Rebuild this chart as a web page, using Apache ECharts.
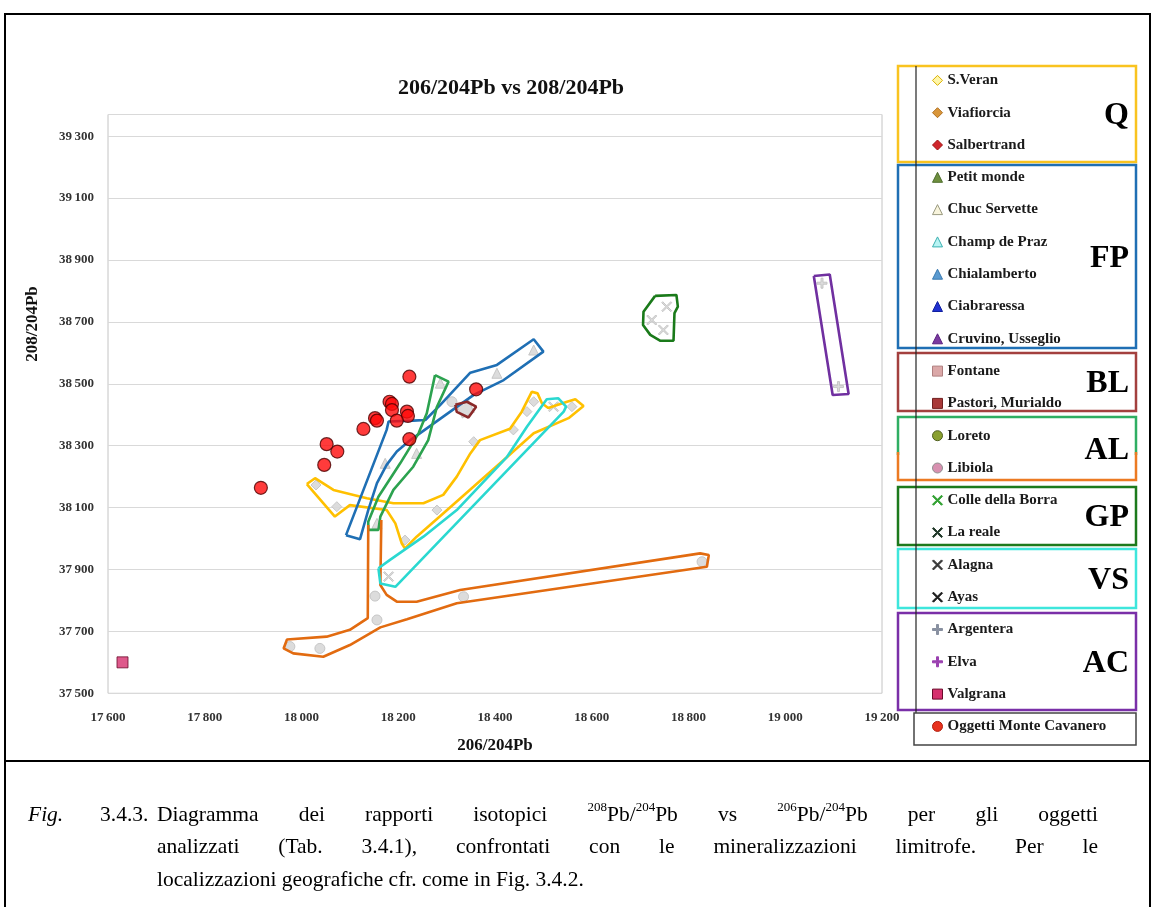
<!DOCTYPE html>
<html>
<head>
<meta charset="utf-8">
<title>206/204Pb vs 208/204Pb</title>
<script src="https://cdn.jsdelivr.net/npm/echarts@6/dist/echarts.min.js"></script>
<style>
  html, body { margin: 0; padding: 0; background: #fff; }
  #chart { width: 1155px; height: 907px; }
</style>
</head>
<body>
<div id="chart"></div>
<script>
// axis ranges
const xMin = 17600, xMax = 19200, xStep = 200;
const yMin = 37500, yMax = 39370, yStep = 200;

// legend entries, in the order of the figure
const legendNames = [
  'S.Veran', 'Viafiorcia', 'Salbertrand',
  'Petit monde', 'Chuc Servette', 'Champ de Praz', 'Chialamberto', 'Ciabraressa', 'Cruvino, Usseglio',
  'Fontane', 'Pastori, Murialdo',
  'Loreto', 'Libiola',
  'Colle della Borra', 'La reale',
  'Alagna', 'Ayas',
  'Argentera', 'Elva', 'Valgrana',
  'Oggetti Monte Cavanero'
];

// points [206/204Pb, 208/204Pb]
const sVeran = [[18030, 38173], [18073, 38103], [18214, 37995], [18280, 38092], [18356, 38313], [18466, 38410], [18559, 38426]];
const viafiorcia = [[18438, 38351], [18480, 38442]];
const salbertrand = [];
const petitMonde = [[18287, 38502]];
const chucServette = [[18238, 38275]];
const champDePraz = [[18156, 38049]];
const chialamberto = [[18404, 38534]];
const ciabraressa = [];
const cruvino = [[18480, 38609], [18173, 38243]];
const fontane = [];
const pastori = [[18339, 38418]];
const loreto = [[18311, 38442]];
const libiola = [[17976, 37651], [18038, 37645], [18156, 37737], [18152, 37814], [18335, 37812], [18828, 37925]];
const colleDellaBorra = [[18724, 38706]];
const laReale = [[18755, 38749], [18748, 38674]];
const alagna = [[18180, 37877]];
const ayas = [[18521, 38426]];
const argentera = [[19076, 38825], [19110, 38491]];
const elva = [];
const valgrana = [[17630, 37600]];
const oggettiMonteCavanero = [
  [18223, 38523], [18361, 38482], [18182, 38442], [18187, 38435], [18187, 38415],
  [18218, 38410], [18220, 38396], [18197, 38381], [18152, 38389], [18156, 38381],
  [18128, 38354], [18223, 38321], [18052, 38305], [18074, 38281], [18047, 38238],
  [17916, 38164]
];

const pointSets = [
  sVeran, viafiorcia, salbertrand,
  petitMonde, chucServette, champDePraz, chialamberto, ciabraressa, cruvino,
  fontane, pastori,
  loreto, libiola,
  colleDellaBorra, laReale,
  alagna, ayas,
  argentera, elva, valgrana,
  oggettiMonteCavanero
];

// hand drawn field envelopes
const envQ = [[18011, 38176], [18028, 38195], [18066, 38157], [18135, 38130], [18190, 38114], [18252, 38114], [18293, 38141],
  [18321, 38200], [18349, 38275], [18369, 38318], [18431, 38355], [18455, 38409], [18476, 38474], [18488, 38469], [18497, 38437],
  [18510, 38422], [18549, 38442], [18566, 38450], [18583, 38428], [18552, 38389], [18480, 38340], [18418, 38254], [18356, 38168],
  [18287, 38073], [18238, 38006], [18214, 37968], [18207, 37985], [18194, 38049], [18176, 38092], [18100, 38108], [18069, 38071],
  [18011, 38176]];
const envFP = [[18092, 38011], [18176, 38351], [18180, 38378], [18231, 38381], [18256, 38383], [18287, 38432], [18349, 38536],
  [18404, 38561], [18480, 38644], [18500, 38604], [18418, 38512], [18356, 38464], [18293, 38394], [18225, 38318], [18197, 38281],
  [18176, 38238], [18156, 38179], [18138, 38092], [18121, 37998], [18092, 38011]];
const envLoreto = [[18276, 38528], [18304, 38507], [18280, 38426], [18262, 38318], [18231, 38232], [18190, 38157], [18163, 38071],
  [18159, 38028], [18138, 38028], [18138, 38054], [18159, 38135], [18204, 38243], [18242, 38340], [18259, 38405], [18276, 38528]];
const envLibiola = [[18138, 38044], [18137, 37743], [18100, 37705], [18052, 37683], [17970, 37674], [17963, 37645], [17983, 37629],
  [18045, 37618], [18100, 37656], [18163, 37713], [18218, 37739], [18321, 37791], [18838, 37909], [18842, 37947], [18824, 37952],
  [18328, 37834], [18238, 37796], [18197, 37796], [18176, 37818], [18163, 37850], [18165, 38060]];
const envVS = [[18159, 37904], [18163, 37855], [18194, 37844], [18542, 38410], [18547, 38426], [18531, 38453], [18507, 38450],
  [18466, 38361], [18425, 38264], [18321, 38092], [18252, 38006], [18183, 37931], [18159, 37904]];
const envGP = [[18731, 38784], [18775, 38787], [18778, 38749], [18771, 38728], [18769, 38639], [18742, 38639], [18721, 38658],
  [18706, 38690], [18707, 38733], [18731, 38784]];
const envAC = [[19059, 38848], [19092, 38853], [19131, 38467], [19098, 38464], [19059, 38848]];
const envBL = [[18318, 38432], [18342, 38442], [18361, 38426], [18345, 38391], [18321, 38409], [18318, 38432]];

const X_PATH = 'path://M1,0L5,4L9,0L10,1L6,5L10,9L9,10L5,6L1,10L0,9L4,5L0,1Z';
const PLUS_PATH = 'path://M4,0H6V4H10V6H6V10H4V6H0V4H4Z';

// legend symbols: [icon, fill, border]
const iconStyles = {
  'S.Veran': ['diamond', '#fff6a8', '#d9b000'],
  'Viafiorcia': ['diamond', '#d9963a', '#b07020'],
  'Salbertrand': ['diamond', '#d0262c', '#a01010'],
  'Petit monde': ['triangle', '#6f8f3f', '#4f6f2f'],
  'Chuc Servette': ['triangle', '#f8f4dc', '#9a9a80'],
  'Champ de Praz': ['triangle', '#b8f4f4', '#3ab0b0'],
  'Chialamberto': ['triangle', '#5a9ad0', '#3a7ab0'],
  'Ciabraressa': ['triangle', '#2030d0', '#1020a0'],
  'Cruvino, Usseglio': ['triangle', '#7a3aa0', '#5a2080'],
  'Fontane': ['rect', '#dba8a8', '#b08080'],
  'Pastori, Murialdo': ['rect', '#a83838', '#702020'],
  'Loreto': ['circle', '#8aa030', '#506020'],
  'Libiola': ['circle', '#d890b0', '#909090'],
  'Colle della Borra': [X_PATH, '#30a030', '#30a030'],
  'La reale': [X_PATH, '#203828', '#203828'],
  'Alagna': [X_PATH, '#333333', '#333333'],
  'Ayas': [X_PATH, '#1a1a1a', '#1a1a1a'],
  'Argentera': [PLUS_PATH, '#8890a0', '#8890a0'],
  'Elva': [PLUS_PATH, '#9a40b0', '#9a40b0'],
  'Valgrana': ['rect', '#d6306e', '#6a0a2a'],
  'Oggetti Monte Cavanero': ['circle', '#e8321e', '#b02010']
};

const chart = echarts.init(document.getElementById('chart'));

const scatterSeries = legendNames.map((name, i) => {
  const st = iconStyles[name];
  let itemStyle = { color: '#d8d8d8', borderColor: '#c2c2c2', borderWidth: 1, opacity: 0.9 };
  let size = 10;
  let z = 2;
  if (name === 'Oggetti Monte Cavanero') {
    itemStyle = { color: '#ff0a0a', borderColor: '#4a0000', borderWidth: 1.2 };
    size = 13; z = 6;
  } else if (name === 'Valgrana') {
    itemStyle = { color: '#d6306e', borderColor: '#6a0a2a', borderWidth: 1 };
    size = 11; z = 6;
  }
  return {
    name: name,
    type: 'scatter',
    data: pointSets[i],
    symbol: st[0],
    symbolSize: name === 'Pastori, Murialdo' ? 13 : size,
    symbolRotate: name === 'Pastori, Murialdo' ? 25 : 0,
    itemStyle: itemStyle,
    z: z,
    animation: false
  };
});

const envelopes = [
  [envQ, '#ffc000'], [envFP, '#1f6fb4'], [envLoreto, '#2ca24f'], [envLibiola, '#e26b10'],
  [envVS, '#2ad8d0'], [envGP, '#1a7a1a'], [envAC, '#7030a0'], [envBL, '#8b2a2a']
];
const envSeries = envelopes.map(([d, c]) => ({
  type: 'line',
  data: d,
  symbol: 'none',
  showSymbol: false,
  lineStyle: { color: c, width: 2.6 },
  silent: true,
  z: 4,
  animation: false
}));

// caption (justified like the printed figure)
const captionFont = '"Liberation Serif", serif';
const capSize = 21.5, supSize = 13;
const measureCtx = document.createElement('canvas').getContext('2d');
function textWidth(t, size, italic) {
  measureCtx.font = (italic ? 'italic ' : '') + size + 'px ' + captionFont;
  return measureCtx.measureText(t).width;
}
function wordParts(w) {
  const parts = [];
  w.split(/(\{[^}]*\})/).forEach(p => {
    if (!p) return;
    if (p[0] === '{') parts.push([p.slice(1, -1), true]);
    else parts.push([p, false]);
  });
  return parts;
}
function captionLine(words, x0, x1, y, justify, italic) {
  const parsed = words.map(wordParts);
  const widths = parsed.map(p => p.reduce((s, [t, sup]) => s + textWidth(t, sup ? supSize : capSize, italic), 0));
  const total = widths.reduce((a, b) => a + b, 0);
  const gap = justify ? (x1 - x0 - total) / (words.length - 1) : textWidth(' ', capSize, italic);
  let x = x0;
  const els = [];
  parsed.forEach(parts => {
    parts.forEach(([t, sup]) => {
      const size = sup ? supSize : capSize;
      els.push({
        type: 'text', x: x, y: sup ? y - 7 : y,
        style: { text: t, font: (italic ? 'italic ' : '') + size + 'px ' + captionFont, fill: '#000', verticalAlign: 'middle' }
      });
      x += textWidth(t, size, italic);
    });
    x += gap;
  });
  return els;
}

const captionEls = [].concat(
  captionLine(['Fig.'], 28, 0, 815, false, true),
  captionLine(['3.4.3.'], 100, 0, 815, false, false),
  captionLine(['Diagramma', 'dei', 'rapporti', 'isotopici', '{208}Pb/{204}Pb', 'vs', '{206}Pb/{204}Pb', 'per', 'gli', 'oggetti'], 157, 1098, 815, true, false),
  captionLine(['analizzati', '(Tab.', '3.4.1),', 'confrontati', 'con', 'le', 'mineralizzazioni', 'limitrofe.', 'Per', 'le'], 157, 1098, 847, true, false),
  captionLine(['localizzazioni', 'geografiche', 'cfr.', 'come', 'in', 'Fig.', '3.4.2.'], 157, 0, 880, false, false)
);

// coloured group frames of the legend
const groupBoxes = [
  ['Q', 66, 162, '#f9c31f'],
  ['FP', 165, 348, '#1f6fb4'],
  ['BL', 353, 411, '#a3403e'],
  ['GP', 487, 545, '#1c7a1c'],
  ['VS', 549, 608, '#3ee6dc'],
  ['AC', 613, 710, '#7a2fa8']
];
const groupEls = [];
groupBoxes.forEach(([label, y0, y1, color]) => {
  groupEls.push({ type: 'rect', shape: { x: 898, y: y0, width: 238, height: y1 - y0 }, style: { fill: null, stroke: color, lineWidth: 2.5 }, z: 1 });
  groupEls.push({ type: 'text', x: 1129, y: (y0 + y1) / 2 + 2, style: { text: label, font: 'bold 32px "Liberation Serif"', fill: '#000', align: 'right', verticalAlign: 'middle' }, z: 3 });
});
groupEls.push({ type: 'polyline', shape: { points: [[898, 455], [898, 417], [1136, 417], [1136, 455]] }, style: { fill: null, stroke: '#2fae62', lineWidth: 2.5 }, z: 1 });
groupEls.push({ type: 'polyline', shape: { points: [[898, 452], [898, 480], [1136, 480], [1136, 452]] }, style: { fill: null, stroke: '#ec7a22', lineWidth: 2.5 }, z: 1 });
groupEls.push({ type: 'text', x: 1129, y: 451, style: { text: 'AL', font: 'bold 32px "Liberation Serif"', fill: '#000', align: 'right', verticalAlign: 'middle' }, z: 3 });
// legend outline
groupEls.push({ type: 'line', shape: { x1: 916, y1: 66, x2: 916, y2: 713 }, style: { stroke: '#222', lineWidth: 1.2 }, z: 1 });
groupEls.push({ type: 'rect', shape: { x: 914, y: 713, width: 222, height: 32 }, style: { fill: null, stroke: '#444', lineWidth: 1.5 }, z: 1 });

const frameEls = [
  { type: 'rect', shape: { x: 5, y: 14, width: 1145, height: 747 }, style: { fill: null, stroke: '#000', lineWidth: 2 }, z: 1 },
  { type: 'line', shape: { x1: 5, y1: 761, x2: 5, y2: 907 }, style: { stroke: '#000', lineWidth: 2 } },
  { type: 'line', shape: { x1: 1150, y1: 761, x2: 1150, y2: 907 }, style: { stroke: '#000', lineWidth: 2 } },
  { type: 'text', x: 33, y: 324, rotation: Math.PI / 2,
    style: { text: '208/204Pb', font: 'bold 17px "Liberation Serif"', fill: '#111', align: 'center', verticalAlign: 'middle' } }
];

const thin = v => String(v).replace(/(\d{2})(\d{3})$/, '$1\u2009$2');

chart.setOption({
  backgroundColor: '#fff',
  animation: false,
  title: {
    text: '206/204Pb vs 208/204Pb',
    left: 511, top: 77, textAlign: 'center', padding: 0,
    textStyle: { fontFamily: 'Liberation Serif', fontWeight: 'bold', fontSize: 22, color: '#111' }
  },
  grid: {
    left: 108, right: 273, top: 114.5, bottom: 213.7,
    show: true, borderColor: '#c4c4c4', borderWidth: 1, backgroundColor: '#fff'
  },
  xAxis: {
    type: 'value', min: xMin, max: xMax, interval: xStep,
    name: '206/204Pb', nameLocation: 'middle', nameGap: 44,
    nameTextStyle: { fontFamily: 'Liberation Serif', fontWeight: 'bold', fontSize: 17, color: '#111' },
    axisLine: { show: false }, axisTick: { show: false }, splitLine: { show: false },
    axisLabel: { formatter: thin, margin: 18, fontFamily: 'Liberation Serif', fontWeight: 'bold', fontSize: 13, color: '#333' }
  },
  yAxis: {
    type: 'value', min: yMin, max: yMax, interval: yStep,
    axisLine: { show: false }, axisTick: { show: false },
    splitLine: { show: true, lineStyle: { color: '#d9d9d9', width: 1 } },
    axisLabel: { formatter: thin, margin: 14, showMaxLabel: false, fontFamily: 'Liberation Serif', fontWeight: 'bold', fontSize: 13, color: '#333' }
  },
  legend: {
    orient: 'vertical', left: 932, top: 72.4, padding: 0,
    itemGap: 16.3, itemWidth: 10, itemHeight: 10, selectedMode: false,
    textStyle: { fontFamily: 'Liberation Serif', fontWeight: 'bold', fontSize: 15, color: '#1a1a1a', lineHeight: 16 },
    data: legendNames.map(n => ({
      name: n,
      icon: iconStyles[n][0],
      itemStyle: { color: iconStyles[n][1], borderColor: iconStyles[n][2], borderWidth: 1, opacity: 1 }
    }))
  },
  graphic: { elements: frameEls.concat(groupEls, captionEls) },
  series: envSeries.concat(scatterSeries)
});

window.addEventListener('resize', () => chart.resize());
</script>
</body>
</html>
